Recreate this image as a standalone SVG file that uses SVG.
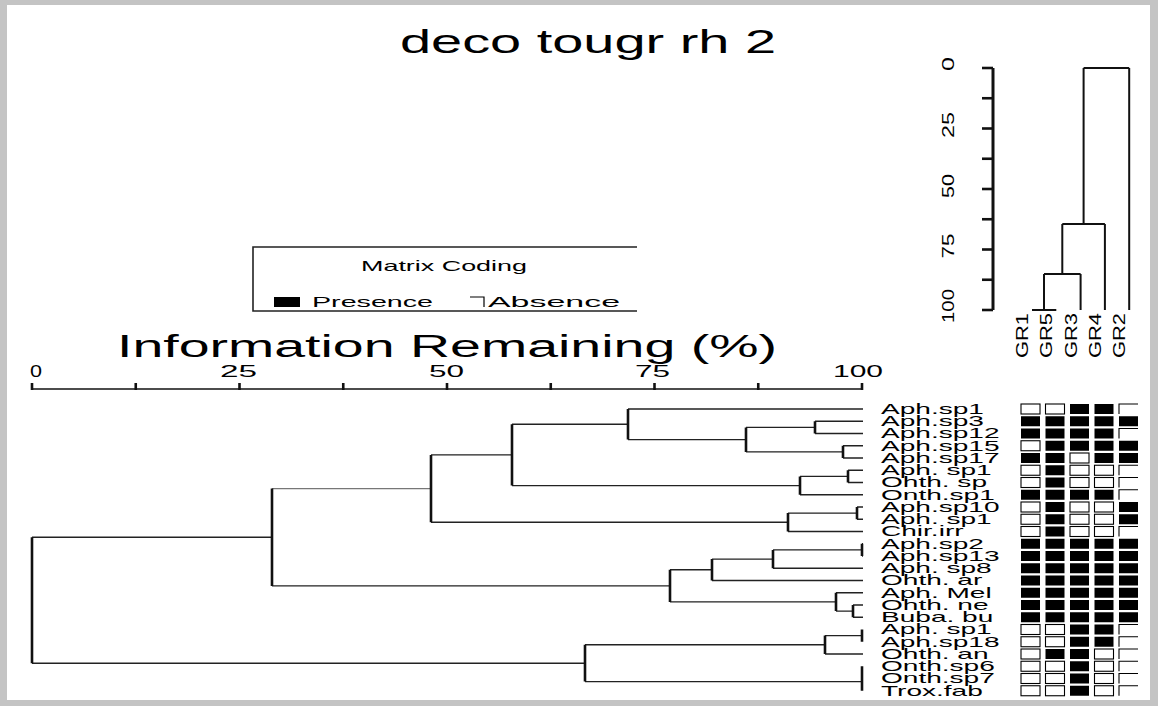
<svg xmlns="http://www.w3.org/2000/svg" width="1158" height="706" viewBox="0 0 1158 706">
<style>
text{font-family:"Liberation Sans",Arial,sans-serif;fill:#000}
.h{stroke:#222;stroke-width:1.4;fill:none}
.v{stroke:#111;stroke-width:2.6;fill:none}
.t{stroke:#111;stroke-width:2.6}
.ax{stroke:#111;stroke-width:1.6;fill:none}
.lbl{font-size:15px}
.p{fill:#000}
.a{fill:none;stroke:#000;stroke-width:1.1}
</style>
<rect x="0" y="0" width="1158" height="706" fill="#c4c4c4"/>
<rect x="7" y="5" width="1143" height="695" fill="#fff"/>

<g id="title"><text x="400" y="53" font-size="34" textLength="376" lengthAdjust="spacingAndGlyphs">deco tougr rh 2</text></g>

<g id="site-dendrogram">
<line class="ax" x1="993" y1="68" x2="993" y2="310" style="stroke-width:3"/>
<g class="t">
<line x1="982" y1="68" x2="993" y2="68"/><line x1="982" y1="98.25" x2="993" y2="98.25"/><line x1="982" y1="128.5" x2="993" y2="128.5"/><line x1="982" y1="158.75" x2="993" y2="158.75"/><line x1="982" y1="189" x2="993" y2="189"/><line x1="982" y1="219.25" x2="993" y2="219.25"/><line x1="982" y1="249.5" x2="993" y2="249.5"/><line x1="982" y1="279.75" x2="993" y2="279.75"/><line x1="982" y1="310" x2="993" y2="310"/>
</g>
<g font-size="17">
<text transform="translate(954,64) rotate(-90)" x="-7" textLength="14" lengthAdjust="spacingAndGlyphs">0</text>
<text transform="translate(954,125) rotate(-90)" x="-13" textLength="26" lengthAdjust="spacingAndGlyphs">25</text>
<text transform="translate(954,186) rotate(-90)" x="-12" textLength="24" lengthAdjust="spacingAndGlyphs">50</text>
<text transform="translate(954,246) rotate(-90)" x="-12.5" textLength="25" lengthAdjust="spacingAndGlyphs">75</text>
<text transform="translate(954,306) rotate(-90)" x="-17" textLength="34" lengthAdjust="spacingAndGlyphs">100</text>
</g>
<g stroke="#111" stroke-width="2" fill="none">
<path d="M1032 310H1056.3"/>
<path d="M1044 310V274M1080.6 310V274M1044 274H1080.6"/>
<path d="M1062.3 274V224M1104.9 310V224M1062.3 224H1104.9"/>
<path d="M1083.6 224V68M1129.2 310V68M1083.6 68H1129.2"/>
</g>
<g font-size="16">
<text transform="translate(1028,313) rotate(-90)" x="-45" textLength="45" lengthAdjust="spacingAndGlyphs">GR1</text>
<text transform="translate(1052.3,313) rotate(-90)" x="-45" textLength="45" lengthAdjust="spacingAndGlyphs">GR5</text>
<text transform="translate(1076.6,313) rotate(-90)" x="-45" textLength="45" lengthAdjust="spacingAndGlyphs">GR3</text>
<text transform="translate(1100.9,313) rotate(-90)" x="-45" textLength="45" lengthAdjust="spacingAndGlyphs">GR4</text>
<text transform="translate(1125.2,313) rotate(-90)" x="-45" textLength="45" lengthAdjust="spacingAndGlyphs">GR2</text>
</g>
</g>

<g id="legend">
<path d="M637 247H253V311H637" stroke="#222" stroke-width="1.6" fill="none"/>
<text x="361" y="271" font-size="15" textLength="166" lengthAdjust="spacingAndGlyphs">Matrix Coding</text>
<rect x="274" y="297" width="26" height="10" fill="#000"/>
<text x="312" y="307" font-size="14" textLength="121" lengthAdjust="spacingAndGlyphs">Presence</text>
<path d="M470 297H484V307" stroke="#000" stroke-width="1.2" fill="none"/>
<text x="488" y="307" font-size="14" textLength="132" lengthAdjust="spacingAndGlyphs">Absence</text>
</g>

<g id="axis">
<text x="117" y="357" font-size="31" textLength="660" lengthAdjust="spacingAndGlyphs">Information Remaining (%)</text>
<line class="ax" x1="32" y1="389" x2="862" y2="389"/>
<g class="t">
<line x1="32" y1="383" x2="32" y2="390"/><line x1="135.75" y1="383" x2="135.75" y2="390"/><line x1="239.5" y1="383" x2="239.5" y2="390"/><line x1="343.25" y1="383" x2="343.25" y2="390"/><line x1="447" y1="383" x2="447" y2="390"/><line x1="550.75" y1="383" x2="550.75" y2="390"/><line x1="654.5" y1="383" x2="654.5" y2="390"/><line x1="758.25" y1="383" x2="758.25" y2="390"/><line x1="862" y1="383" x2="862" y2="390"/>
</g>
<g font-size="16">
<text x="30" y="377" textLength="12" lengthAdjust="spacingAndGlyphs">0</text>
<text x="220" y="377" textLength="37" lengthAdjust="spacingAndGlyphs">25</text>
<text x="429" y="377" textLength="35" lengthAdjust="spacingAndGlyphs">50</text>
<text x="635" y="377" textLength="35" lengthAdjust="spacingAndGlyphs">75</text>
<text x="833" y="377" textLength="50" lengthAdjust="spacingAndGlyphs">100</text>
</g>
</g>

<g id="connectors">
<g class="h">
<path d="M815 421.25H863M815 433.5H863M843 445.75H863M843 458H863M746 427.4H815M746 451.9H843M628 409H863M628 439.6H746"/>
<path d="M848 470.25H863M848 482.5H863M800 476.4H848M800 494.75H863M512 424.3H628M512 485.6H800"/>
<path d="M857 507H863M857 519.25H863M788 513.1H857M788 531.5H863M431 454.9H512M431 522.3H788"/>
<path d="M862 543.75H863M862 556H863M773 549.9H862M773 568.25H863M712 559.1H773M712 580.5H863"/>
<path d="M853 605H863M853 617.25H863M836 592.75H863M836 611.1H853M670 569.8H712M670 601.9H836"/>
<path d="M272 585.9H670"/>
<path d="M825 635.6H862M825 654H863M585 644.8H825M585 681.6H862M32 537.2H272M32 663.2H585"/>
</g>
<path d="M272 488.6H431" stroke="#777" stroke-width="1.1" fill="none"/>
<g class="v">
<path d="M815 421.25V433.5M843 445.75V458M746 427.4V451.9M628 409V439.6M848 470.25V482.5M800 476.4V494.75M512 424.3V485.6"/>
<path d="M857 507V519.25M788 513.1V531.5M431 454.9V522.3"/>
<path d="M862 543.75V556M773 549.9V568.25M712 559.1V580.5M853 605V617.25M836 592.75V611.1M670 569.8V601.9M272 488.6V585.9"/>
<path d="M862 629.5V641.75M825 635.6V654M862 666.25V690.75M585 644.8V681.6M32 537.2V663.2"/>
</g>
</g>

<g id="leaf-labels" transform="translate(881 0) scale(1.87 1)" class="lbl">
<text x="0" y="414">Aph.sp1</text>
<text x="0" y="426.25">Aph.sp3</text>
<text x="0" y="438.5">Aph.sp12</text>
<text x="0" y="450.75">Aph.sp15</text>
<text x="0" y="463">Aph.sp17</text>
<text x="0" y="475.25">Aph. sp1</text>
<text x="0" y="487.5">Ohth. sp</text>
<text x="0" y="499.75">Onth.sp1</text>
<text x="0" y="512">Aph.sp10</text>
<text x="0" y="524.25">Aph. sp1</text>
<text x="0" y="536.5">Chir.irr</text>
<text x="0" y="548.75">Aph.sp2</text>
<text x="0" y="561">Aph.sp13</text>
<text x="0" y="573.25">Aph. sp8</text>
<text x="0" y="585.5">Ohth. ar</text>
<text x="0" y="597.75">Aph. Mel</text>
<text x="0" y="610">Ohth. ne</text>
<text x="0" y="622.25">Buba. bu</text>
<text x="0" y="634.5">Aph. sp1</text>
<text x="0" y="646.75">Aph.sp18</text>
<text x="0" y="659">Ohth. an</text>
<text x="0" y="671.25">Onth.sp6</text>
<text x="0" y="683.5">Onth.sp7</text>
<text x="0" y="695.75">Trox.fab</text>
</g>

<g id="matrix">
<defs>
<rect id="P" width="19" height="10" class="p"/>
<rect id="A" width="19" height="10" class="a"/>
<path id="A5" d="M0 10V0H19" class="a"/>
</defs>
<use href="#A" x="1021" y="404"/><use href="#A" x="1045.5" y="404"/><use href="#P" x="1070" y="404"/><use href="#P" x="1094.5" y="404"/><use href="#A5" x="1119" y="404"/>
<use href="#P" x="1021" y="416.25"/><use href="#P" x="1045.5" y="416.25"/><use href="#P" x="1070" y="416.25"/><use href="#P" x="1094.5" y="416.25"/><use href="#P" x="1119" y="416.25"/>
<use href="#P" x="1021" y="428.5"/><use href="#P" x="1045.5" y="428.5"/><use href="#P" x="1070" y="428.5"/><use href="#P" x="1094.5" y="428.5"/><use href="#A5" x="1119" y="428.5"/>
<use href="#A" x="1021" y="440.75"/><use href="#P" x="1045.5" y="440.75"/><use href="#P" x="1070" y="440.75"/><use href="#P" x="1094.5" y="440.75"/><use href="#P" x="1119" y="440.75"/>
<use href="#P" x="1021" y="453"/><use href="#P" x="1045.5" y="453"/><use href="#A" x="1070" y="453"/><use href="#P" x="1094.5" y="453"/><use href="#P" x="1119" y="453"/>
<use href="#A" x="1021" y="465.25"/><use href="#P" x="1045.5" y="465.25"/><use href="#A" x="1070" y="465.25"/><use href="#A" x="1094.5" y="465.25"/><use href="#A5" x="1119" y="465.25"/>
<use href="#A" x="1021" y="477.5"/><use href="#P" x="1045.5" y="477.5"/><use href="#A" x="1070" y="477.5"/><use href="#A" x="1094.5" y="477.5"/><use href="#A5" x="1119" y="477.5"/>
<use href="#P" x="1021" y="489.75"/><use href="#P" x="1045.5" y="489.75"/><use href="#P" x="1070" y="489.75"/><use href="#P" x="1094.5" y="489.75"/><use href="#A5" x="1119" y="489.75"/>
<use href="#A" x="1021" y="502"/><use href="#P" x="1045.5" y="502"/><use href="#A" x="1070" y="502"/><use href="#A" x="1094.5" y="502"/><use href="#P" x="1119" y="502"/>
<use href="#A" x="1021" y="514.25"/><use href="#P" x="1045.5" y="514.25"/><use href="#A" x="1070" y="514.25"/><use href="#A" x="1094.5" y="514.25"/><use href="#P" x="1119" y="514.25"/>
<use href="#A" x="1021" y="526.5"/><use href="#P" x="1045.5" y="526.5"/><use href="#A" x="1070" y="526.5"/><use href="#A" x="1094.5" y="526.5"/><use href="#A5" x="1119" y="526.5"/>
<use href="#P" x="1021" y="538.75"/><use href="#P" x="1045.5" y="538.75"/><use href="#P" x="1070" y="538.75"/><use href="#P" x="1094.5" y="538.75"/><use href="#P" x="1119" y="538.75"/>
<use href="#P" x="1021" y="551"/><use href="#P" x="1045.5" y="551"/><use href="#P" x="1070" y="551"/><use href="#P" x="1094.5" y="551"/><use href="#P" x="1119" y="551"/>
<use href="#P" x="1021" y="563.25"/><use href="#P" x="1045.5" y="563.25"/><use href="#P" x="1070" y="563.25"/><use href="#P" x="1094.5" y="563.25"/><use href="#P" x="1119" y="563.25"/>
<use href="#P" x="1021" y="575.5"/><use href="#P" x="1045.5" y="575.5"/><use href="#P" x="1070" y="575.5"/><use href="#P" x="1094.5" y="575.5"/><use href="#P" x="1119" y="575.5"/>
<use href="#P" x="1021" y="587.75"/><use href="#P" x="1045.5" y="587.75"/><use href="#P" x="1070" y="587.75"/><use href="#P" x="1094.5" y="587.75"/><use href="#P" x="1119" y="587.75"/>
<use href="#P" x="1021" y="600"/><use href="#P" x="1045.5" y="600"/><use href="#P" x="1070" y="600"/><use href="#P" x="1094.5" y="600"/><use href="#P" x="1119" y="600"/>
<use href="#P" x="1021" y="612.25"/><use href="#P" x="1045.5" y="612.25"/><use href="#P" x="1070" y="612.25"/><use href="#P" x="1094.5" y="612.25"/><use href="#P" x="1119" y="612.25"/>
<use href="#A" x="1021" y="624.5"/><use href="#A" x="1045.5" y="624.5"/><use href="#P" x="1070" y="624.5"/><use href="#P" x="1094.5" y="624.5"/><use href="#A5" x="1119" y="624.5"/>
<use href="#A" x="1021" y="636.75"/><use href="#A" x="1045.5" y="636.75"/><use href="#P" x="1070" y="636.75"/><use href="#P" x="1094.5" y="636.75"/><use href="#A5" x="1119" y="636.75"/>
<use href="#A" x="1021" y="649"/><use href="#P" x="1045.5" y="649"/><use href="#P" x="1070" y="649"/><use href="#A" x="1094.5" y="649"/><use href="#A5" x="1119" y="649"/>
<use href="#A" x="1021" y="661.25"/><use href="#A" x="1045.5" y="661.25"/><use href="#P" x="1070" y="661.25"/><use href="#A" x="1094.5" y="661.25"/><use href="#A5" x="1119" y="661.25"/>
<use href="#A" x="1021" y="673.5"/><use href="#A" x="1045.5" y="673.5"/><use href="#P" x="1070" y="673.5"/><use href="#A" x="1094.5" y="673.5"/><use href="#A5" x="1119" y="673.5"/>
<use href="#A" x="1021" y="685.75"/><use href="#A" x="1045.5" y="685.75"/><use href="#P" x="1070" y="685.75"/><use href="#A" x="1094.5" y="685.75"/><use href="#A5" x="1119" y="685.75"/>
</g>
</svg>
